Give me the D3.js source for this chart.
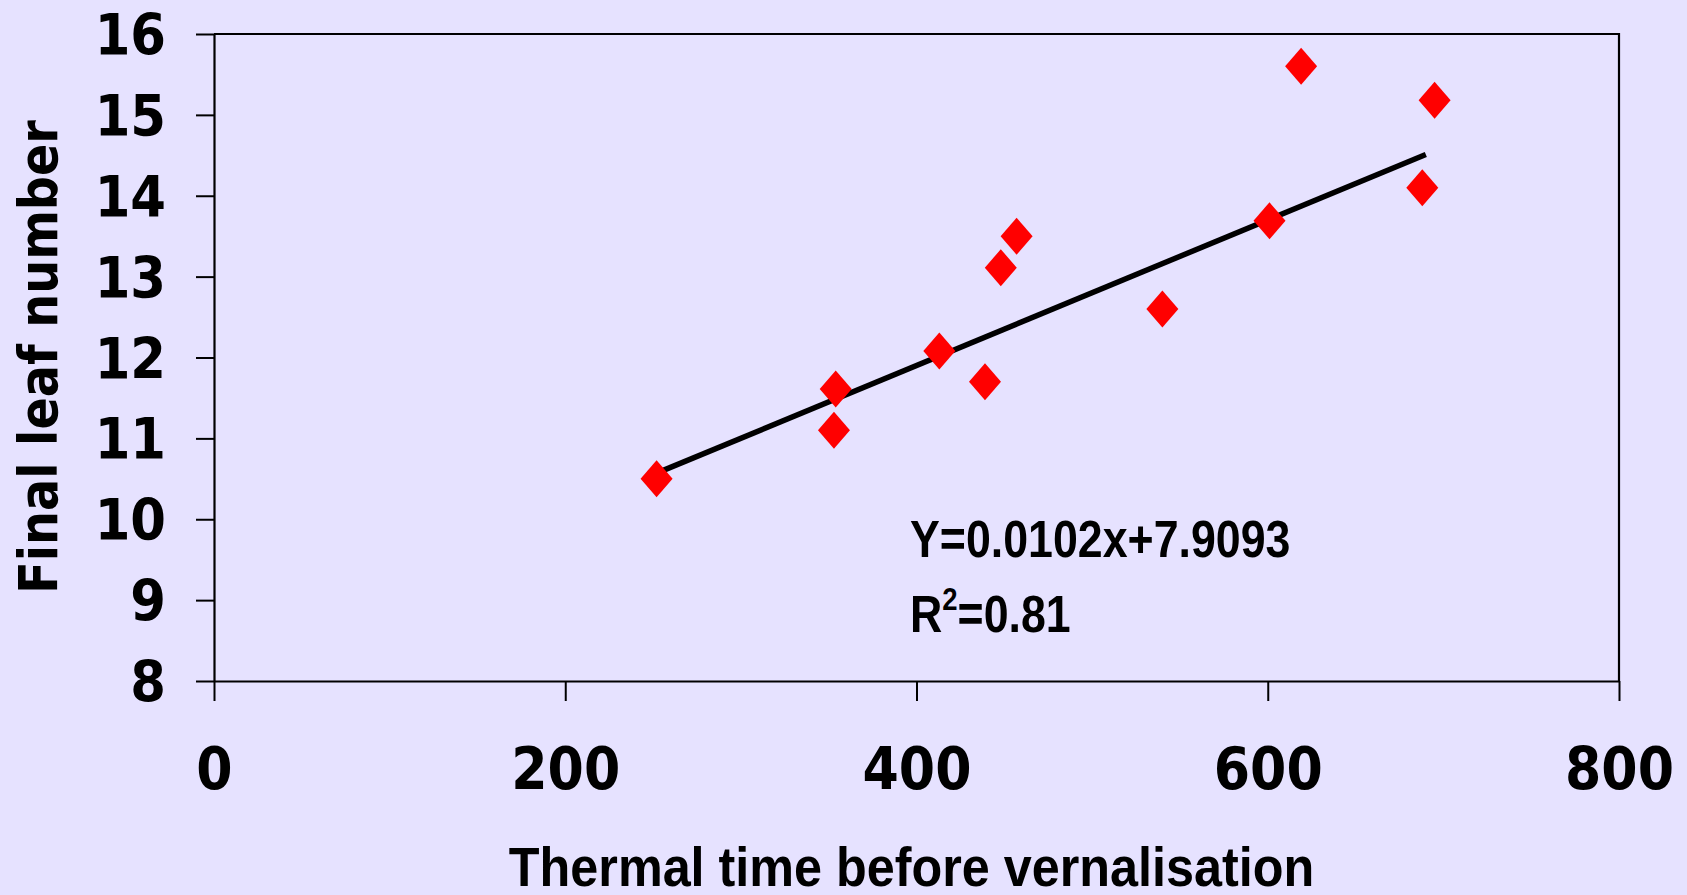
<!DOCTYPE html>
<html>
<head>
<meta charset="utf-8">
<script src="https://cdn.jsdelivr.net/npm/d3@7"></script>
<style>
    html, body { margin: 0; padding: 0; background: #E6E2FF; }
    svg { display: block; }
    .tick text { font-family: "DejaVu Sans Condensed", "DejaVu Sans", sans-serif; font-stretch: condensed; font-weight: bold; fill: #000; }
</style>
</head>
<body>
<div id="chart"></div>
<script>
// values
const thermalTime = [252, 354, 353, 413, 439, 448, 457, 540, 601, 619, 688, 695];
const leafNumber = [10.50, 11.61, 11.10, 12.08, 11.70, 13.11, 13.50, 12.60, 13.69, 15.60, 14.10, 15.18];
const trendX = [252, 690];       // ends of the drawn fit line
const trendY = [10.57, 14.51];
const xTicks = [0, 200, 400, 600, 800];
const yTicks = [8, 9, 10, 11, 12, 13, 14, 15, 16];
const equationText = "Y=0.0102x+7.9093";
const rSquared = "0.81";

const bgColor = '#E6E2FF';
const pointColor = '#FF0000';

function scatter() {
    const W = 1687, H = 895;
    const margin = {top: 34, right: 68, bottom: 214, left: 214};
    const width = W - margin.left - margin.right;
    const height = H - margin.top - margin.bottom;

    const root = d3.select("#chart")
        .append("svg")
        .attr("width", W)
        .attr("height", H);

    root.append("rect")
        .attr("width", W)
        .attr("height", H)
        .attr("fill", bgColor);

    const svg = root.append("g")
        .attr("transform", `translate(${margin.left}, ${margin.top})`);

    const data = thermalTime.map(function(t, i) { return {x: t, y: leafNumber[i]}; });

    const x = d3.scaleLinear().domain([0, 800]).range([0, width]);
    const y = d3.scaleLinear().domain([8, 16]).range([height, 0]);

    // top and right edges of the frame
    svg.append("path")
        .attr("d", `M0,0H${width}V${height}`)
        .attr("fill", "none")
        .attr("stroke", "black")
        .attr("stroke-width", 2.2);

    // Y axis
    const yAxis = svg.append("g")
        .call(d3.axisLeft(y).tickValues(yTicks).tickSize(18).tickSizeOuter(0).tickPadding(30));
    yAxis.select(".domain").attr("stroke-width", 2.2);
    yAxis.selectAll(".tick line").attr("stroke-width", 2);
    yAxis.selectAll(".tick text")
        .style("font-size", "57px")
        .attr("dy", "0.36em");

    // X axis
    const xAxis = svg.append("g")
        .attr("transform", `translate(0, ${height})`)
        .call(d3.axisBottom(x).tickValues(xTicks).tickSize(20).tickSizeOuter(0));
    xAxis.select(".domain").attr("stroke-width", 2.2);
    xAxis.selectAll(".tick line").attr("stroke-width", 2);
    xAxis.selectAll(".tick text")
        .style("font-size", "58px")
        .attr("y", 108)
        .attr("dy", 0);

    // fitted line
    svg.append("line")
        .attr("x1", x(trendX[0]))
        .attr("y1", y(trendY[0]))
        .attr("x2", x(trendX[1]))
        .attr("y2", y(trendY[1]))
        .attr("stroke", "black")
        .attr("stroke-width", 5.5);

    // diamonds
    svg.selectAll("diamond")
        .data(data)
        .enter()
        .append("path")
        .attr("transform", function(d) { return `translate(${x(d.x)}, ${y(d.y)})`; })
        .attr("d", "M0,-18.5L16,0L0,18.5L-16,0Z")
        .attr("fill", pointColor);

    // equation text
    const eq = root.append("g")
        .attr("font-family", '"Liberation Sans", Arial, sans-serif')
        .attr("font-weight", "bold")
        .attr("fill", "black");
    eq.append("text")
        .attr("transform", "translate(910, 557) scale(0.86, 1)")
        .style("font-size", "52px")
        .text(equationText);
    const r2 = eq.append("text")
        .attr("transform", "translate(910, 632) scale(0.86, 1)")
        .style("font-size", "52px");
    r2.append("tspan").text("R");
    r2.append("tspan").attr("dy", -22).style("font-size", "32px").text("2");
    r2.append("tspan").attr("dy", 22).text("=" + rSquared);

    // axis titles
    root.append("text")
        .attr("transform", `translate(${margin.left + width / 2 - 5}, 886) scale(0.915, 1)`)
        .attr("text-anchor", "middle")
        .attr("font-family", '"Liberation Sans", Arial, sans-serif')
        .attr("font-weight", "bold")
        .style("font-size", "55px")
        .text("Thermal time before vernalisation");

    root.append("text")
        .attr("transform", "translate(57, 357) rotate(-90)")
        .attr("text-anchor", "middle")
        .attr("font-family", '"DejaVu Sans Condensed", "DejaVu Sans", sans-serif')
        .style("font-stretch", "condensed")
        .attr("font-weight", "bold")
        .style("font-size", "53px")
        .text("Final leaf number");
}

function main() {
    scatter();
}

main();
</script>
</body>
</html>
